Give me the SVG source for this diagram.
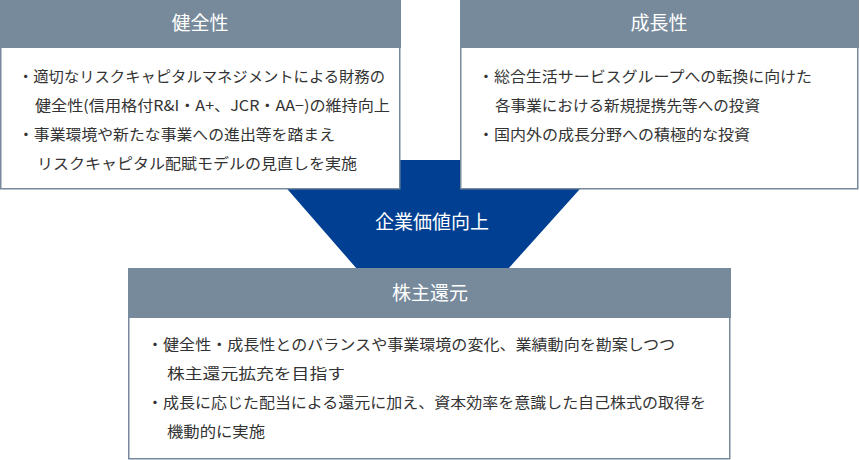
<svg xmlns="http://www.w3.org/2000/svg" width="860" height="460" viewBox="0 0 860 460">
<style>
.box{fill:#fff;stroke:#778a9c;stroke-width:1.5}
.hd{fill:#778a9c}
.ht{fill:#fff;font-family:"Noto Sans CJK JP",sans-serif;font-size:19px;text-anchor:middle}
.t{fill:#333;font-family:"Noto Sans CJK JP",sans-serif;font-size:15px}
</style>
<g id="connectors">
<polygon points="262,160 606,160 508,269 357,269" fill="#003f91"/>
</g>
<g id="kenzen">
<rect class="box" x="0.75" y="0.75" width="399" height="188"/>
<rect class="hd" x="0" y="0" width="401" height="48"/>
<text class="ht" x="200" y="30">健全性</text>
<text class="t" x="18" y="82" textLength="367" lengthAdjust="spacingAndGlyphs">・適切なリスクキャピタルマネジメントによる財務の</text>
<text class="t" x="35" y="111" textLength="355" lengthAdjust="spacingAndGlyphs">健全性(信用格付R&amp;I・A+、JCR・AA−)の維持向上</text>
<text class="t" x="18" y="140" textLength="317" lengthAdjust="spacingAndGlyphs">・事業環境や新たな事業への進出等を踏まえ</text>
<text class="t" x="37" y="169" textLength="320" lengthAdjust="spacingAndGlyphs">リスクキャピタル配賦モデルの見直しを実施</text>
</g>
<g id="seicho">
<rect class="box" x="460.75" y="0.75" width="397" height="188"/>
<rect class="hd" x="460" y="0" width="399" height="48"/>
<text class="ht" x="659" y="30">成長性</text>
<text class="t" x="478" y="82" textLength="334" lengthAdjust="spacingAndGlyphs">・総合生活サービスグループへの転換に向けた</text>
<text class="t" x="495" y="111" textLength="265" lengthAdjust="spacingAndGlyphs">各事業における新規提携先等への投資</text>
<text class="t" x="478" y="140" textLength="272" lengthAdjust="spacingAndGlyphs">・国内外の成長分野への積極的な投資</text>
</g>
<g id="kigyo">
<text class="ht" x="432" y="229">企業価値向上</text>
</g>
<g id="kabunushi">
<rect class="box" x="128.75" y="268.75" width="601" height="190"/>
<rect class="hd" x="128" y="268" width="603" height="50"/>
<text class="ht" x="430" y="300">株主還元</text>
<text class="t" x="147" y="350" textLength="528" lengthAdjust="spacingAndGlyphs">・健全性・成長性とのバランスや事業環境の変化、業績動向を勘案しつつ</text>
<text class="t" x="167" y="379" textLength="178" lengthAdjust="spacingAndGlyphs">株主還元拡充を目指す</text>
<text class="t" x="147" y="408" textLength="559" lengthAdjust="spacingAndGlyphs">・成長に応じた配当による還元に加え、資本効率を意識した自己株式の取得を</text>
<text class="t" x="167" y="437" textLength="98" lengthAdjust="spacingAndGlyphs">機動的に実施</text>
</g>
</svg>
